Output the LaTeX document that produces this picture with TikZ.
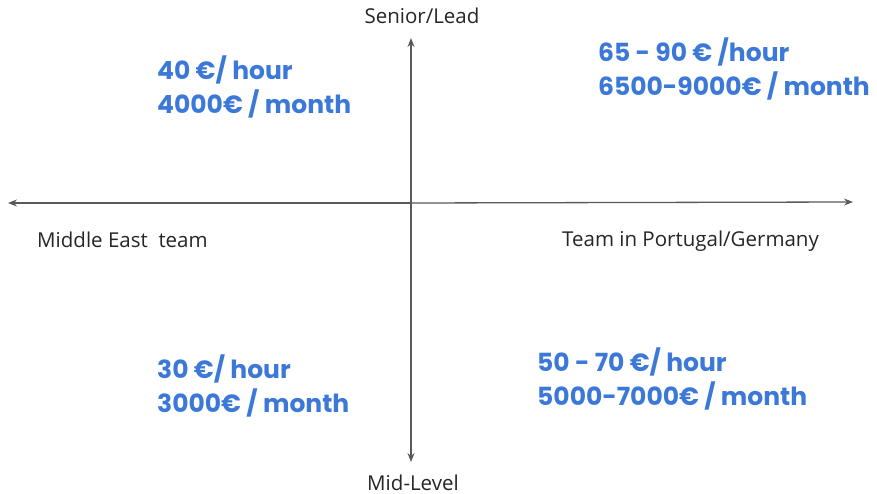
\documentclass[tikz,border=0pt]{standalone}
\usepackage{fontspec}
\setmainfont{Open Sans}
\newfontfamily\ratefont{Poppins}
\usetikzlibrary{arrows.meta}
\definecolor{rateblue}{HTML}{3C78D8}
\definecolor{axisgray}{HTML}{595959}
\tikzset{
  axis/.style={draw=axisgray,line width=1.3pt,-{Stealth[length=9pt,width=7pt,inset=3pt]}},
  axislabel/.style={font=\fontsize{20.5}{22}\selectfont,text=black!85,inner sep=0pt},
  rate/.style={font=\ratefont\bfseries\fontsize{25}{34}\selectfont,text=rateblue,align=left,inner sep=0pt,anchor=west}
}
\begin{document}
\begin{tikzpicture}[x=1pt,y=-1pt]
  \useasboundingbox (0,0) rectangle (877,494);
  % axes
  \coordinate (origin) at (411,203);
  \coordinate (west) at (8,203);
  \coordinate (east) at (853,202);
  \coordinate (north) at (411,38);
  \coordinate (south) at (411,462);
  \draw[axis] (origin) -- (west);
  \draw[axis] (origin) -- (east);
  \draw[axis] (origin) -- (north);
  \draw[axis] (origin) -- (south);
  % axis labels
  \node[axislabel] (senior) at (422,16) {Senior/Lead};
  \node[axislabel] (midlevel) at (413,483) {Mid-Level};
  \node[axislabel,anchor=west] (middleeast) at (37,240) {Middle East\ \ team};
  \node[axislabel,anchor=west] (europe) at (562,241) {Team in Portugal/Germany};
  % rates
  \node[rate] (seniorME) at (157,87) {40 €/ hour\\4000€ / month};
  \node[rate] (seniorEU) at (598,69) {65 - 90 € /hour\\6500-9000€ / month};
  \node[rate] (midME) at (157,386) {30 €/ hour\\3000€ / month};
  \node[rate] (midEU) at (537,379) {50 - 70 €/ hour\\5000-7000€ / month};
\end{tikzpicture}
\end{document}
